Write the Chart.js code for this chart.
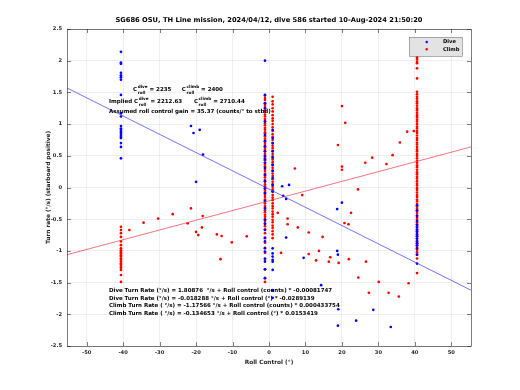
<!DOCTYPE html>
<html>
<head>
<meta charset="utf-8">
<script src="https://cdn.jsdelivr.net/npm/chart.js@4.4.1/dist/chart.umd.min.js"></script>
<style>
  html, body { margin: 0; padding: 0; background: #fff; }
  #wrap { width: 520px; height: 390px; }
</style>
</head>
<body>
<div id="wrap"><canvas id="turn" width="520" height="390"></canvas></div>
<script>
// tick labels
var xTicks = [-50, -40, -30, -20, -10, 0, 10, 20, 30, 40, 50];
var yTicks = [-2.5, -2, -1.5, -1, -0.5, 0, 0.5, 1, 1.5, 2, 2.5];

// roll positions where most of the samples pile up (deg)
var colLeftX = -40.6, colAX = -1.1, colBX = 1.0, colRightX = 40.6;

// dive turn rates (deg/s)
var diveLeft = [2.14, 1.97, 1.95, 1.81, 1.77, 1.74, 1.70, 1.46, 1.17, 1.12, 0.97, 0.93, 0.91, 0.88, 0.86, 0.83, 0.80, 0.78, 0.70, 0.64, 0.46];
var diveColA = [2.0, 1.46, 1.33, 1.25, 1.04, 0.83, 0.73, 0.65, 0.57, 0.49, 0.44, 0.39, 0.31, 0.20, 0.10, -0.01, -0.09, -0.21, -0.33, -0.51, -0.57, -0.67, -0.80, -0.85, -0.96, -1.01, -1.12, -1.17, -1.29, -1.43];
var diveColB = [0.91, 0.78, 0.70, 0.57, 0.47, 0.36, 0.26, 0.15, 0.04, -0.06, -0.96, -1.04, -1.09, -1.14, -1.17, -1.30, -1.62, -1.74];
var diveRight = [-0.28, -0.36, -0.45, -0.53, -0.59, -0.63, -0.67, -0.70, -0.74, -0.77, -0.81, -0.85, -0.88, -0.91, -0.96, -1.06, -1.20];
var diveScatterX = [-21.4, -20.7, -19.0, -18.1, -20.0, 3.6, 5.5, 3.9, 4.7, 20.0, 18.7, 4.7, 9.5, 18.7, 18.9, 14.3, 19.0, 23.9, 28.6, 18.9, 33.4];
var diveScatterY = [0.97, 0.86, 0.91, 0.52, 0.09, 0.02, 0.04, -0.13, -0.18, -0.24, -0.34, -0.79, -1.11, -1.0, -1.06, -1.54, -1.92, -2.10, -1.93, -2.18, -2.20];

// climb turn rates (deg/s)
var climbLeft = [-0.62, -0.67, -0.72, -0.78, -0.85, -0.91, -0.96, -0.99, -1.02, -1.04, -1.07, -1.09, -1.12, -1.14, -1.17, -1.20, -1.22, -1.25, -1.27, -1.30, -1.38, -1.49];
var climbColA = [1.45, 1.41, 1.38, 1.33, 1.30, 1.27, 1.22, 1.19, 1.15, 1.12, 1.08, 1.05, 1.01, 0.98, 0.94, 0.91, 0.87, 0.85, 0.81, 0.77, 0.74, 0.70, 0.67, 0.63, 0.60, 0.57, 0.53, 0.50, 0.46, 0.43, 0.39, 0.36, 0.33, 0.29, 0.26, 0.22, 0.19, 0.16, 0.12, 0.09, 0.05, 0.02, -0.02, -0.05, -0.08, -0.12, -0.15, -0.19, -0.22, -0.25, -0.29, -0.32, -0.36, -0.39, -0.43, -0.46, -0.50, -0.53, -0.57, -0.61, -0.66, -0.72, -0.79, -0.87, -0.95, -1.03, -1.14, -1.29, -1.43, -1.49];
var climbColB = [1.43, 1.36, 1.31, 1.25, 1.20, 1.14, 1.09, 1.05, 1.00, 0.95, 0.89, 0.84, 0.80, 0.75, 0.70, 0.66, 0.62, 0.58, 0.53, 0.49, 0.44, 0.40, 0.35, 0.31, 0.27, 0.22, 0.18, 0.13, 0.09, 0.05, 0.01, -0.03, -0.07, -0.12, -0.16, -0.20, -0.25, -0.29, -0.33, -0.38, -0.42, -0.46, -0.51, -0.55, -0.60, -0.64, -0.69, -0.74, -0.80];
var climbRight = [2.08, 2.05, 2.02, 1.98, 1.96, 1.88, 1.72, 1.51, 1.47, 1.43, 1.40, 1.36, 1.33, 1.29, 1.25, 1.22, 1.18, 1.14, 1.11, 1.07, 1.04, 1.00, 0.96, 0.93, 0.89, 0.86, 0.82, 0.78, 0.75, 0.71, 0.68, 0.64, 0.60, 0.57, 0.53, 0.50, 0.46, 0.42, 0.39, 0.35, 0.32, 0.28, 0.24, 0.21, 0.17, 0.14, 0.10, 0.06, 0.03, -0.01, -0.04, -0.08, -0.12, -0.15, -0.19, -0.22, -0.26, -0.30, -0.33, -0.37, -0.40, -0.44, -0.48, -0.51, -0.55, -0.58, -0.62, -0.66, -0.69, -0.73, -0.76, -0.80, -0.84, -0.87, -0.91, -0.94, -0.98, -1.02, -1.06, -1.12, -1.35];
var climbScatterX = [-38.3, -34.4, -30.4, -26.4, -21.4, -22.3, -18.2, -20.0, -19.4, -18.4, -14.3, -13.0, -10.2, -13.3, 20.0, 20.9, 18.9, 20.0, 20.0, 7.1, 26.4, 28.3, 32.2, 33.9, 35.9, 37.9, 39.7, 24.4, -6.1, 2.4, 5.1, 5.1, 7.9, 9.1, 10.9, 14.7, 22.5, 20.7, 21.8, 3.3, 10.9, 13.7, 12.9, 16.8, 16.4, 19.1, 21.9, 26.6, 24.5, 30.1, 27.4, 32.8, 35.6, 38.3];
var climbScatterY = [-0.67, -0.555, -0.49, -0.42, -0.33, -0.565, -0.45, -0.70, -0.75, -0.63, -0.74, -0.765, -0.865, -1.13, 1.285, 1.02, 0.67, 0.33, 0.28, 0.30, 0.39, 0.47, 0.37, 0.51, 0.71, 0.88, 0.89, -0.03, -0.77, -0.40, -0.49, -0.58, -0.63, -0.12, -0.71, -0.78, -0.40, -0.56, -0.58, -1.03, -1.05, -1.0, -1.15, -1.10, -1.17, -1.19, -1.13, -1.17, -1.42, -1.49, -1.66, -1.66, -1.72, -1.51];

// fitted lines, end points
var fitX = [-55.4, 55.4];
var diveFitY = [1.57, -1.62];
var climbFitY = [-1.06, 0.64];

var FONT = "'DejaVu Sans', sans-serif";
var INK = '#262626';

function column(x, ys) {
  return ys.map(function (y) { return { x: x, y: y }; });
}
function pairs(xs, ys) {
  return xs.map(function (x, i) { return { x: x, y: ys[i] }; });
}

var divePts = [].concat(column(colLeftX, diveLeft), column(colAX, diveColA), column(colBX, diveColB),
  column(colRightX, diveRight), pairs(diveScatterX, diveScatterY));
var climbPts = [].concat(column(colLeftX, climbLeft), column(colAX, climbColA), column(colBX, climbColB),
  column(colRightX, climbRight), pairs(climbScatterX, climbScatterY));

// C with super/subscript, returns x after it
function cSym(ctx, x, y, top, bottom) {
  ctx.font = 'bold 5.5px ' + FONT;
  ctx.fillText('C', x, y);
  x += ctx.measureText('C').width + 0.6;
  ctx.font = 'bold 4.2px ' + FONT;
  ctx.fillText(top, x, y - 3);
  ctx.fillText(bottom, x, y + 2.6);
  x += Math.max(ctx.measureText(top).width, ctx.measureText(bottom).width);
  ctx.font = 'bold 5.5px ' + FONT;
  return x;
}

var decor = {
  id: 'decor',
  beforeDraw: function (chart) {
    var ctx = chart.ctx;
    ctx.save();
    ctx.fillStyle = '#fff';
    ctx.fillRect(0, 0, chart.width, chart.height);
    ctx.restore();
  },
  afterDraw: function (chart) {
    var ctx = chart.ctx, a = chart.chartArea;
    var sx = chart.scales.x, sy = chart.scales.y;
    ctx.save();

    // axes box + inward ticks
    ctx.strokeStyle = INK;
    ctx.lineWidth = 0.6;
    ctx.strokeRect(a.left + 0.5, a.top + 0.5, a.right - a.left, a.bottom - a.top);
    ctx.beginPath();
    xTicks.forEach(function (v) {
      var px = Math.round(sx.getPixelForValue(v)) + 0.5;
      ctx.moveTo(px, a.bottom); ctx.lineTo(px, a.bottom - 4);
      ctx.moveTo(px, a.top); ctx.lineTo(px, a.top + 4);
    });
    yTicks.forEach(function (v) {
      var py = Math.round(sy.getPixelForValue(v)) + 0.5;
      ctx.moveTo(a.left, py); ctx.lineTo(a.left + 4, py);
      ctx.moveTo(a.right, py); ctx.lineTo(a.right - 4, py);
    });
    ctx.stroke();

    ctx.fillStyle = '#000';
    ctx.textBaseline = 'middle';

    // title
    ctx.textAlign = 'center';
    ctx.font = 'bold 6.7px ' + FONT;
    ctx.fillText('SG686 OSU, TH Line mission, 2024/04/12, dive 586 started 10-Aug-2024 21:50:20', (a.left + a.right) / 2, 20.5);

    // axis titles
    ctx.font = 'bold 5.8px ' + FONT;
    ctx.fillStyle = INK;
    ctx.fillText('Roll Control (\u00b0)', (a.left + a.right) / 2, 362);
    ctx.save();
    ctx.translate(48, (a.top + a.bottom) / 2);
    ctx.rotate(-Math.PI / 2);
    ctx.fillText('Turn rate (\u00b0/s) (starboard positive)', 0, 0);
    ctx.restore();

    // annotations
    ctx.fillStyle = '#000';
    ctx.textAlign = 'left';
    var px, py;
    py = sy.getPixelForValue(1.54);
    px = cSym(ctx, sx.getPixelForValue(-37.3), py, 'dive', 'roll');
    ctx.fillText(' = 2235', px, py);
    px = cSym(ctx, sx.getPixelForValue(-23.9), py, 'climb', 'roll');
    ctx.fillText(' = 2400', px, py);

    py = sy.getPixelForValue(1.35);
    ctx.font = 'bold 5.5px ' + FONT;
    px = sx.getPixelForValue(-43.9);
    ctx.fillText('Implied ', px, py);
    px += ctx.measureText('Implied ').width;
    px = cSym(ctx, px, py, 'dive', 'roll');
    ctx.fillText(' = 2212.63', px, py);
    px = cSym(ctx, sx.getPixelForValue(-20.6), py, 'climb', 'roll');
    ctx.fillText(' = 2710.44', px, py);

    ctx.fillText('Assumed roll control gain = 35.37 (counts/\u00b0 to stbd)', sx.getPixelForValue(-43.9), sy.getPixelForValue(1.19));

    var fits = [
      ['Dive Turn Rate (\u00b0/s) = 1.80876  \u00b0/s + Roll control (counts) * -0.00081747', -1.628],
      ['Dive Turn Rate (\u00b0/s) = -0.018288 \u00b0/s + Roll control (\u00b0) * -0.0289139', -1.759],
      ['Climb Turn Rate ( \u00b0/s) = -1.17566 \u00b0/s + Roll control (counts) * 0.000433754', -1.869],
      ['Climb Turn Rate ( \u00b0/s) = -0.134653 \u00b0/s + Roll control (\u00b0) * 0.0153419', -1.984]
    ];
    ctx.font = 'bold 5.5px ' + FONT;
    fits.forEach(function (f) {
      ctx.fillText(f[0], sx.getPixelForValue(-43.9), sy.getPixelForValue(f[1]));
    });

    // legend box
    ctx.fillStyle = '#e3e3e3';
    ctx.fillRect(409, 37, 53, 19);
    ctx.strokeStyle = '#7a7a7a';
    ctx.lineWidth = 0.6;
    ctx.strokeRect(409.5, 37.5, 53, 19);
    ctx.font = 'bold 5.2px ' + FONT;
    [['Dive', '#0000ff', 42], ['Climb', '#ff0000', 49.3]].forEach(function (e) {
      ctx.fillStyle = e[1];
      ctx.beginPath();
      ctx.arc(426.7, e[2], 1.2, 0, Math.PI * 2);
      ctx.fill();
      ctx.fillStyle = '#000';
      ctx.fillText(e[0], 443, e[2]);
    });

    ctx.restore();
  }
};

var tickFont = { family: FONT, size: 5.2, weight: 'bold' };

new Chart(document.getElementById('turn'), {
  type: 'scatter',
  data: {
    datasets: [
      { label: 'Climb', data: climbPts, backgroundColor: '#ff0000', pointRadius: 1.35, borderWidth: 0, order: 3 },
      { label: 'Dive', data: divePts, backgroundColor: '#0000ff', pointRadius: 1.35, borderWidth: 0, order: 2 },
      { label: 'dive fit', data: pairs(fitX, diveFitY), showLine: true, borderColor: '#3a3af0', borderWidth: 0.7, pointRadius: 0, order: 1 },
      { label: 'climb fit', data: pairs(fitX, climbFitY), showLine: true, borderColor: '#ee3a4a', borderWidth: 0.7, pointRadius: 0, order: 1 }
    ]
  },
  options: {
    responsive: false,
    animation: false,
    events: [],
    layout: { padding: { top: 29, right: 49, left: 0, bottom: 0 } },
    plugins: { legend: { display: false }, tooltip: { enabled: false } },
    scales: {
      x: {
        type: 'linear', min: -55.4, max: 55.4,
        afterBuildTicks: function (s) { s.ticks = xTicks.map(function (v) { return { value: v }; }); },
        afterFit: function (s) { s.height = 44; },
        ticks: { font: tickFont, color: INK, padding: 4, maxRotation: 0, autoSkip: false, callback: function (v) { return String(v); } },
        grid: { color: '#e4e4e4', lineWidth: 0.6, drawTicks: false },
        border: { display: false }
      },
      y: {
        type: 'linear', min: -2.5, max: 2.5,
        afterBuildTicks: function (s) { s.ticks = yTicks.map(function (v) { return { value: v }; }); },
        afterFit: function (s) { s.width = 67; },
        ticks: { font: tickFont, color: INK, padding: 5, autoSkip: false, callback: function (v) { return String(v); } },
        grid: { color: '#e4e4e4', lineWidth: 0.6, drawTicks: false },
        border: { display: false }
      }
    }
  },
  plugins: [decor]
});
</script>
</body>
</html>
